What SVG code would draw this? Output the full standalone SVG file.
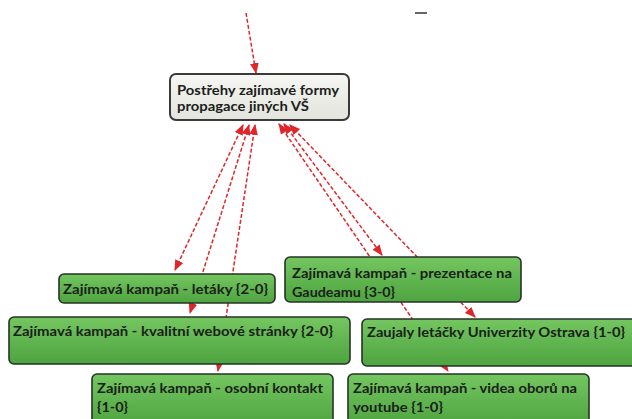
<svg xmlns="http://www.w3.org/2000/svg" width="632" height="419" viewBox="0 0 632 419">
  <defs>
    <linearGradient id="green" x1="0" y1="0" x2="0" y2="1">
      <stop offset="0" stop-color="#74c660"/>
      <stop offset="1" stop-color="#4ea440"/>
    </linearGradient>
    <linearGradient id="grey" x1="0" y1="0" x2="0" y2="1">
      <stop offset="0" stop-color="#f6f6f2"/>
      <stop offset="1" stop-color="#e4e4de"/>
    </linearGradient>
    <marker id="arr" viewBox="0 0 10 10" refX="9" refY="5" markerWidth="11" markerHeight="11" markerUnits="userSpaceOnUse" orient="auto-start-reverse">
      <path d="M0,1 L10,5 L0,9 z" fill="#e0262a"/>
    </marker>
    <style>
      .code { fill: url(#green); stroke: #263326; stroke-width: 1.6; }
      .main { fill: url(#grey); stroke: #3a3a3a; stroke-width: 2; }
      .lbl { font-family: Lato, "Liberation Sans", sans-serif; font-size: 14px; font-weight: bold; fill: #1a201a; }
      .link { stroke: #e0262a; stroke-width: 1.5; stroke-dasharray: 4 2; fill: none; }
    </style>
  </defs>

  <rect width="632" height="419" fill="#ffffff"/>
  <line x1="415" y1="13" x2="427" y2="13" stroke="#333" stroke-width="1.5"/>

  <!-- connectors -->
  <g id="connectors">
    <line class="link" x1="246" y1="13" x2="256" y2="73" marker-end="url(#arr)"/>
    <line class="link" x1="243" y1="125" x2="175" y2="270" marker-start="url(#arr)" marker-end="url(#arr)"/>
    <line class="link" x1="249" y1="125" x2="190" y2="313" marker-start="url(#arr)" marker-end="url(#arr)"/>
    <line class="link" x1="255" y1="125" x2="218" y2="371" marker-start="url(#arr)" marker-end="url(#arr)"/>
    <line class="link" x1="279" y1="124" x2="448" y2="371" marker-start="url(#arr)" marker-end="url(#arr)"/>
    <line class="link" x1="284" y1="124" x2="382" y2="255" marker-start="url(#arr)" marker-end="url(#arr)"/>
    <line class="link" x1="290" y1="125" x2="475" y2="317" marker-start="url(#arr)" marker-end="url(#arr)"/>
  </g>

  <g id="n-postrehy">
    <rect class="main" x="170" y="74" width="179" height="46" rx="6"/>
    <text class="lbl" x="177" y="95" textLength="162" lengthAdjust="spacingAndGlyphs">Postřehy zajímavé formy</text>
    <text class="lbl" x="177" y="111" textLength="132" lengthAdjust="spacingAndGlyphs">propagace jiných VŠ</text>
  </g>

  <g id="n-letaky">
    <rect class="code" x="59" y="274" width="216" height="29" rx="5"/>
    <text class="lbl" x="63" y="294" textLength="205" lengthAdjust="spacingAndGlyphs">Zajímavá kampaň - letáky {2-0}</text>
  </g>

  <g id="n-gaudeamus">
    <rect class="code" x="285" y="257" width="236" height="45" rx="5"/>
    <text class="lbl" x="292" y="278" textLength="220" lengthAdjust="spacingAndGlyphs">Zajímavá kampaň - prezentace na</text>
    <text class="lbl" x="292" y="297" textLength="103" lengthAdjust="spacingAndGlyphs">Gaudeamu {3-0}</text>
  </g>

  <g id="n-web">
    <rect class="code" x="9" y="317" width="341" height="47" rx="5"/>
    <text class="lbl" x="13" y="336" textLength="320" lengthAdjust="spacingAndGlyphs">Zajímavá kampaň - kvalitní webové stránky {2-0}</text>
  </g>

  <g id="n-ostrava">
    <rect class="code" x="362" y="319" width="275" height="47" rx="5"/>
    <text class="lbl" x="367" y="337" textLength="258" lengthAdjust="spacingAndGlyphs">Zaujaly letáčky Univerzity Ostrava {1-0}</text>
  </g>

  <g id="n-kontakt">
    <rect class="code" x="92" y="374" width="241" height="52" rx="5"/>
    <text class="lbl" x="97" y="393" textLength="226" lengthAdjust="spacingAndGlyphs">Zajímavá kampaň - osobní kontakt</text>
    <text class="lbl" x="97" y="412" textLength="31" lengthAdjust="spacingAndGlyphs">{1-0}</text>
  </g>

  <g id="n-youtube">
    <rect class="code" x="348" y="374" width="241" height="52" rx="5"/>
    <text class="lbl" x="353" y="393" textLength="224" lengthAdjust="spacingAndGlyphs">Zajímavá kampaň - videa oborů na</text>
    <text class="lbl" x="353" y="412" textLength="90" lengthAdjust="spacingAndGlyphs">youtube {1-0}</text>
  </g>
</svg>
